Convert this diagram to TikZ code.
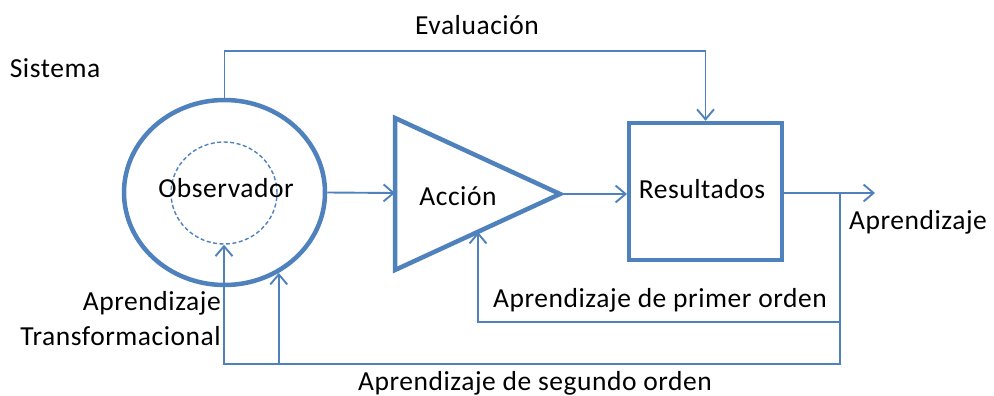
\documentclass[tikz,border=0pt]{standalone}
\usepackage{fontspec}
\setmainfont{Carlito}[LetterSpace=2]
\usetikzlibrary{shapes.geometric,arrows.meta}
\definecolor{lineblue}{HTML}{4F81BD}
\begin{document}
\begin{tikzpicture}[x=1pt,y=-1pt,
  thickline/.style={draw=lineblue,line width=4.5pt},
  thinline/.style={draw=lineblue,line width=1.9pt},
  arr/.style={thinline,-{Straight Barb[length=10pt,width=17pt,line width=1.9pt]}},
  lbl/.style={font=\fontsize{27.5}{32}\selectfont,inner sep=0pt}]
\useasboundingbox (0,0) rectangle (994,396);
% shapes
\node[ellipse,thickline,minimum width=201pt,minimum height=185pt,inner sep=0pt] (obs) at (224.5,192.5) {};
\node[ellipse,draw=lineblue,line width=1.4pt,dashed,dash pattern=on 4pt off 2.5pt,minimum width=106pt,minimum height=102pt,inner sep=0pt] (inner) at (224,193) {};
\node[lbl] (obstxt) at (226,188) {Observador};
\coordinate (tl) at (395,118);
\coordinate (tapex) at (560,194);
\coordinate (tbl) at (395,270);
\draw[thickline,line join=miter] (tl) -- (tapex) -- (tbl) -- cycle;
\coordinate (tin) at (395,193);
\node[lbl] (acc) at (458,196) {Acción};
\node[rectangle,thickline,minimum width=153pt,minimum height=137pt,inner sep=0pt] (res) at (705.5,191.5) {};
\node[lbl] (restxt) at (702,189) {Resultados};
% labels
\node[lbl] (eval) at (477,25) {Evaluación};
\node[lbl] (sis) at (55,68) {Sistema};
\node[lbl] (apr) at (918,222) {Aprendizaje};
\node[lbl] (po) at (660,300) {Aprendizaje de primer orden};
\node[lbl,anchor=east,align=right] (at1) at (221,303) {Aprendizaje};
\node[lbl,anchor=east,align=right] (at2) at (221,336) {Transformacional};
\node[lbl] (so) at (535,383) {Aprendizaje de segundo orden};
% connectors
\coordinate (evtop) at (477,51);
\draw[arr] (obs.north) |- (evtop) -| (res.north);
\draw[arr] (obs.east) -- (tin);
\coordinate (tout) at (627,194);
\draw[arr] (tapex) -- (tout);
\coordinate (out) at (875,193);
\coordinate (junc) at (840,193);
\draw[arr] (res.east |- junc) -- (out);
\coordinate (fo) at (840,322);
\coordinate (trib) at (478,232);
\draw[arr] (junc) -- (fo) -| (trib);
\coordinate (so1) at (840,364);
\coordinate (soL) at (224,364);
\draw[arr] (fo) -- (so1) -- (soL) -- (inner.south);
\coordinate (br) at (obs.-56 |- soL);
\draw[arr] (br) -- (obs.-56);
\end{tikzpicture}
\end{document}
